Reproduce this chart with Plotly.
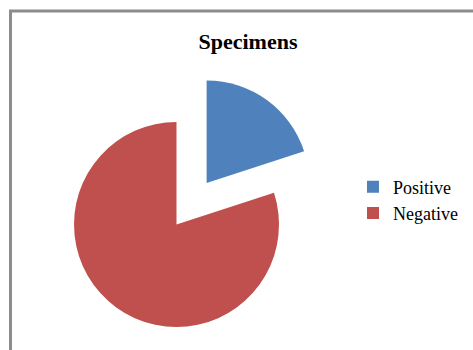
import plotly.graph_objects as go

# Specimen results
labels = ["Positive", "Negative"]
values = [20, 80]
colors = ["#4F81BD", "#C0504D"]
pull = [0.5, 0]

W, H = 473, 380

# Pie placement in pixels (center of unpulled pie and its radius)
cx, cy, r = 176.5, 224.5, 102.5
half = r * (1 + max(pull))
dom_x = [(cx - half) / W, (cx + half) / W]
dom_y = [(H - (cy + half)) / H, (H - (cy - half)) / H]

fig = go.Figure(
    go.Pie(
        labels=labels,
        values=values,
        marker=dict(colors=colors, line=dict(width=0)),
        pull=pull,
        sort=False,
        direction="clockwise",
        rotation=0,
        textinfo="none",
        hoverinfo="label+value",
        domain=dict(x=dom_x, y=dom_y),
    )
)

fig.update_layout(
    width=W,
    height=H,
    margin=dict(l=0, r=0, t=0, b=0),
    paper_bgcolor="white",
    plot_bgcolor="white",
    title=dict(
        text="Specimens",
        x=248 / W,
        xanchor="center",
        y=1 - 41 / H,
        yanchor="middle",
        font=dict(family="Liberation Serif", size=22, color="black", weight="bold"),
    ),
    legend=dict(
        x=353 / W,
        xanchor="left",
        y=1 - 200 / H,
        yanchor="middle",
        font=dict(family="Liberation Serif", size=18, color="black"),
        bgcolor="rgba(0,0,0,0)",
    ),
    shapes=[
        dict(
            type="rect",
            xref="paper",
            yref="paper",
            x0=10.5 / W,
            x1=1.1,
            y0=-0.2,
            y1=1 - 11 / H,
            line=dict(color="#8c8c8c", width=3),
            fillcolor="rgba(0,0,0,0)",
            layer="above",
        )
    ],
)

fig.write_html(
    "out.html",
    post_script="document.documentElement.style.overflow='hidden';document.body.style.overflow='hidden';document.body.style.margin='0';",
)
